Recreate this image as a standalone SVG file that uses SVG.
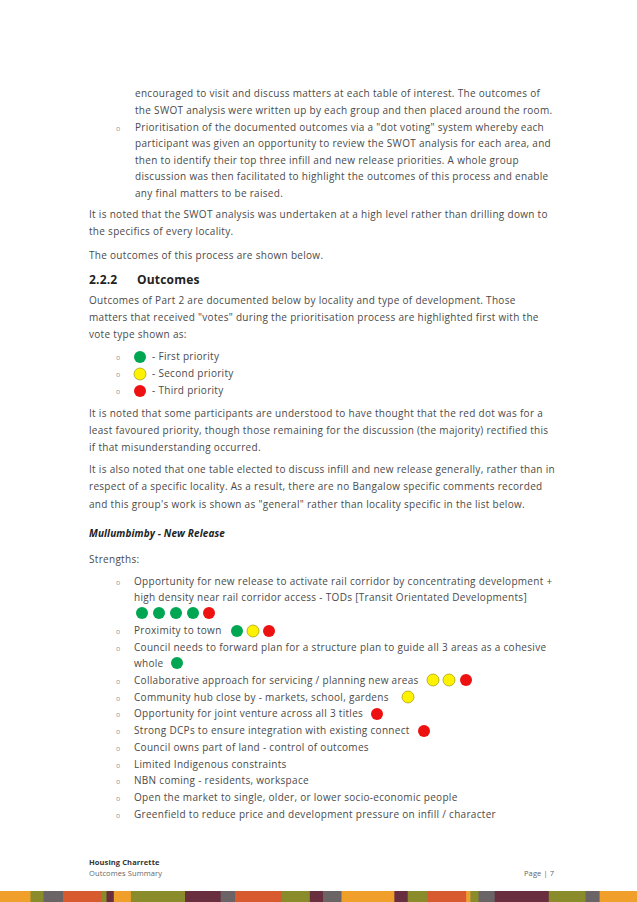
<svg xmlns="http://www.w3.org/2000/svg" width="637" height="902" viewBox="0 0 637 902">
<style>
text{font-family:"Open Sans","DejaVu Sans",sans-serif;font-size:10px;fill:#4a4a4a;letter-spacing:.3px}
.h{font-size:12px;font-weight:bold;fill:#222;letter-spacing:.2px}
.bi{font-weight:bold;font-style:italic;fill:#222;letter-spacing:.1px}
.o{font-size:7px;fill:#999}
.f1{font-size:7.5px;font-weight:bold;fill:#333;letter-spacing:.1px}
.f2{font-size:7.5px;fill:#666;letter-spacing:.1px}
.g{fill:#00a651}.y{fill:#fff200;stroke:#8a8a00;stroke-width:.6}.r{fill:#ee1111}
</style>
<rect width="637" height="902" fill="#fff"/>
<g id="body">
<text x="135" y="97">encouraged to visit and discuss matters at each table of interest. The outcomes of</text>
<text x="135" y="114">the SWOT analysis were written up by each group and then placed around the room.</text>
<text class="o" x="116" y="131">o</text>
<text x="135" y="131">Prioritisation of the documented outcomes via a "dot voting" system whereby each</text>
<text x="135" y="147">participant was given an opportunity to review the SWOT analysis for each area, and</text>
<text x="135" y="164">then to identify their top three infill and new release priorities. A whole group</text>
<text x="135" y="180">discussion was then facilitated to highlight the outcomes of this process and enable</text>
<text x="135" y="197">any final matters to be raised.</text>
<text x="89" y="218">It is noted that the SWOT analysis was undertaken at a high level rather than drilling down to</text>
<text x="89" y="235">the specifics of every locality.</text>
<text x="89" y="259">The outcomes of this process are shown below.</text>
<text class="h" x="89" y="284">2.2.2</text>
<text class="h" x="137" y="284">Outcomes</text>
<text x="89" y="304">Outcomes of Part 2 are documented below by locality and type of development.  Those</text>
<text x="89" y="321">matters that received "votes" during the prioritisation process are highlighted first with the</text>
<text x="89" y="338">vote type shown as:</text>
<text class="o" x="116" y="360">o</text><text x="152" y="360">- First priority</text>
<text class="o" x="116" y="377">o</text><text x="152" y="377">- Second priority</text>
<text class="o" x="116" y="394">o</text><text x="152" y="394">- Third priority</text>
<text x="89" y="417">It is noted that some participants are understood to have thought that the red dot was for a</text>
<text x="89" y="434">least favoured priority, though those remaining for the discussion (the majority) rectified this</text>
<text x="89" y="451">if that misunderstanding occurred.</text>
<text x="89" y="473">It is also noted that one table elected to discuss infill and new release generally, rather than in</text>
<text x="89" y="490">respect of a specific locality.  As a result, there are no Bangalow specific comments recorded</text>
<text x="89" y="508">and this group's work is shown as "general" rather than locality specific in the list below.</text>
<text class="bi" x="89" y="537">Mullumbimby - New Release</text>
<text x="89" y="563">Strengths:</text>
<g>
<text class="o" x="116" y="585">o</text><text x="134" y="585">Opportunity for new release to activate rail corridor by concentrating development +</text>
<text x="134" y="601">high density near rail corridor access - TODs [Transit Orientated Developments]</text>
<text class="o" x="116" y="634">o</text><text x="134" y="634">Proximity to town</text>
<text class="o" x="116" y="651">o</text><text x="134" y="651">Council needs to forward plan for a structure plan to guide all 3 areas as a cohesive</text>
<text x="134" y="667">whole</text>
<text class="o" x="116" y="684">o</text><text x="134" y="684">Collaborative approach for servicing / planning new areas</text>
<text class="o" x="116" y="701">o</text><text x="134" y="701">Community hub close by - markets, school, gardens</text>
<text class="o" x="116" y="717">o</text><text x="134" y="717">Opportunity for joint venture across all 3 titles</text>
<text class="o" x="116" y="734">o</text><text x="134" y="734">Strong DCPs to ensure integration with existing connect</text>
<text class="o" x="116" y="751">o</text><text x="134" y="751">Council owns part of land - control of outcomes</text>
<text class="o" x="116" y="768">o</text><text x="134" y="768">Limited Indigenous constraints</text>
<text class="o" x="116" y="784">o</text><text x="134" y="784">NBN coming - residents, workspace</text>
<text class="o" x="116" y="801">o</text><text x="134" y="801">Open the market to single, older, or lower socio-economic people</text>
<text class="o" x="116" y="818">o</text><text x="134" y="818">Greenfield to reduce price and development pressure on infill / character</text>
</g>
</g>
<g id="dots">
<circle class="g" cx="140" cy="357" r="6"/><circle class="y" cx="140" cy="374" r="6"/><circle class="r" cx="140" cy="391" r="6"/>
<circle class="g" cx="142" cy="613" r="6"/><circle class="g" cx="159" cy="613" r="6"/><circle class="g" cx="176" cy="613" r="6"/><circle class="g" cx="193" cy="613" r="6"/><circle class="r" cx="209" cy="613" r="6"/>
<circle class="g" cx="237" cy="631" r="6"/><circle class="y" cx="253" cy="631" r="6"/><circle class="r" cx="269" cy="631" r="6"/>
<circle class="g" cx="177" cy="663" r="6"/>
<circle class="y" cx="433" cy="680" r="6"/><circle class="y" cx="449" cy="680" r="6"/><circle class="r" cx="466" cy="680" r="6"/>
<circle class="y" cx="408" cy="697" r="6"/>
<circle class="r" cx="377" cy="714" r="6"/>
<circle class="r" cx="424" cy="731" r="6"/>
</g>
<g id="footer">
<text class="f1" x="89" y="865">Housing Charrette</text>
<text class="f2" x="89" y="876">Outcomes Summary</text>
<text class="f2" x="524" y="876">Page | 7</text>
<rect x="0" y="891" width="31" height="11" fill="#f0a02a"/>
<rect x="30.5" y="891" width="13.5" height="11" fill="#8a8b2a"/>
<rect x="43.5" y="891" width="20" height="11" fill="#6b6466"/>
<rect x="63" y="891" width="39" height="11" fill="#d85a2f"/>
<rect x="101.6" y="891" width="5.4" height="11" fill="#8a8b2a"/>
<rect x="106.5" y="891" width="7.8" height="11" fill="#6a2f3e"/>
<rect x="113.8" y="891" width="17.6" height="11" fill="#f0a02a"/>
<rect x="130.9" y="891" width="54.6" height="11" fill="#8a8b2a"/>
<rect x="185" y="891" width="36.2" height="11" fill="#6a2f3e"/>
<rect x="220.7" y="891" width="14.8" height="11" fill="#6b6466"/>
<rect x="235" y="891" width="47.2" height="11" fill="#d85a2f"/>
<rect x="281.7" y="891" width="28.6" height="11" fill="#8a8b2a"/>
<rect x="309.8" y="891" width="13.7" height="11" fill="#6a2f3e"/>
<rect x="323" y="891" width="19" height="11" fill="#6b6466"/>
<rect x="341.5" y="891" width="53.3" height="11" fill="#f0a02a"/>
<rect x="394.3" y="891" width="13.9" height="11" fill="#6a2f3e"/>
<rect x="407.7" y="891" width="20.4" height="11" fill="#8a8b2a"/>
<rect x="427.6" y="891" width="39.2" height="11" fill="#d85a2f"/>
<rect x="466.3" y="891" width="4.5" height="11" fill="#f0a02a"/>
<rect x="470.3" y="891" width="8.7" height="11" fill="#8a8b2a"/>
<rect x="478.5" y="891" width="16.7" height="11" fill="#6b6466"/>
<rect x="494.7" y="891" width="54.6" height="11" fill="#6a2f3e"/>
<rect x="548.8" y="891" width="37.1" height="11" fill="#8a8b2a"/>
<rect x="585.4" y="891" width="14.7" height="11" fill="#6b6466"/>
<rect x="599.6" y="891" width="37.4" height="11" fill="#f0a02a"/>
</g>
</svg>
